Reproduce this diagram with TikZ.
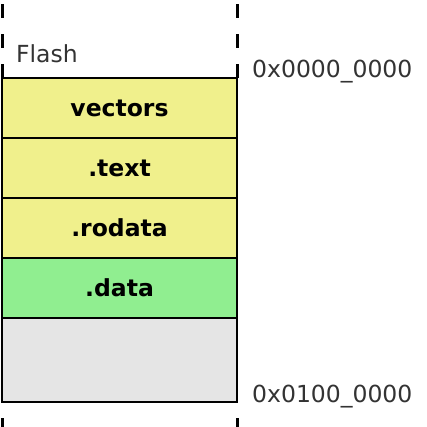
\documentclass[tikz,border=0pt]{standalone}
\usepackage{fontspec}
\setmainfont{DejaVu Sans}
\usetikzlibrary{positioning}
\definecolor{sec_yellow}{RGB}{240,240,140}
\definecolor{sec_green}{RGB}{144,238,144}
\definecolor{sec_gray}{RGB}{229,229,229}
\tikzstyle{section} = [rectangle,
minimum width=235pt,
minimum height=60pt,
inner sep=0pt, outer sep=0pt,
text centered,
draw=black, line width=2pt,
font=\bfseries\fontsize{23.5}{28}\selectfont]
\tikzstyle{code} = [section, fill=sec_yellow]
\tikzstyle{ram} = [section, fill=sec_green]
\tikzstyle{unused} = [section, fill=sec_gray, minimum height=84pt]
\tikzstyle{label} = [anchor=base west, inner sep=0pt, text=black!80, font=\fontsize{23.5}{28}\selectfont]
\tikzstyle{border_dashed} = [line width=3pt, dash pattern=on 14pt off 16pt]

\begin{document}
\begin{tikzpicture}[x=1pt, y=-1pt]
\useasboundingbox (0,0) rectangle (427,427);

% Flash sections
\node (Vectors) [code] at (119.5,108) {vectors};
\node (Text) [code, below=0pt of Vectors] {.text};
\node (Rodata) [code, below=0pt of Text] {.rodata};
\node (Data) [ram, below=0pt of Rodata] {.data};
\node (Free) [unused, below=0pt of Data] {};

% Labels
\node (Flash_Label) [label] at (16,63) {Flash};
\node (Addr_Start) [label] at (252,78) {0x0000\_0000};
\node (Addr_End) [label] at (252,402) {0x0100\_0000};

% Dashed continuation of the memory
\coordinate (Top_Left) at (2,0);
\coordinate (Top_Right) at (237,0);
\coordinate (Bottom_Left) at (2,427);
\coordinate (Bottom_Right) at (237,427);
\draw [border_dashed] (Vectors.north west) -- (Top_Left);
\draw [border_dashed] (Vectors.north east) -- (Top_Right);
\draw [border_dashed, dash phase=14pt] (Free.south west) -- (Bottom_Left);
\draw [border_dashed, dash phase=14pt] (Free.south east) -- (Bottom_Right);

\end{tikzpicture}
\end{document}
